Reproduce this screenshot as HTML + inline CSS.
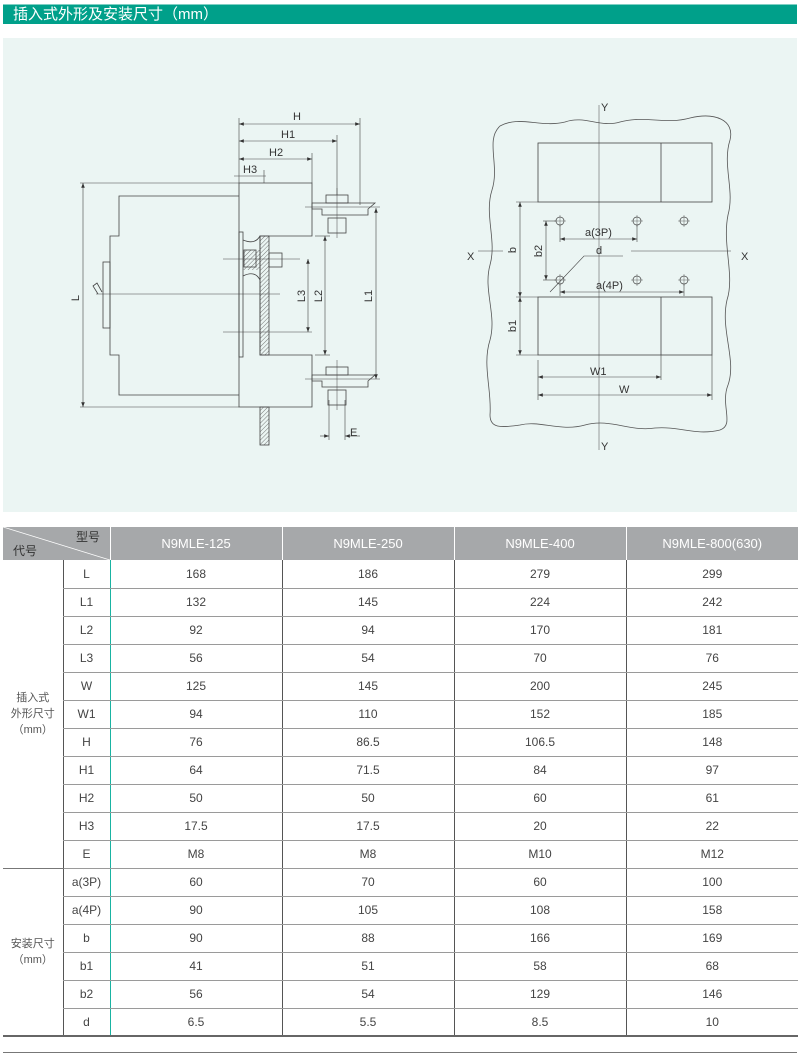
<!DOCTYPE html>
<html><head><meta charset="utf-8">
<style>
body{margin:0;background:#fff;width:800px;height:1062px;position:relative;overflow:hidden;font-family:"Liberation Sans","Noto Sans CJK SC",sans-serif;}
.title{position:absolute;left:3px;top:4px;width:794px;height:19px;background:#00a08a;color:#fff;font-size:15px;line-height:19px;text-indent:10px;border-top:1px solid #7fcfc3;}
.diag{position:absolute;left:3px;top:38px;width:794px;height:474px;background:#ebf5f3;}
svg text{font-family:"Liberation Sans",sans-serif;fill:#333;}
table{position:absolute;left:3px;top:527px;width:795px;table-layout:fixed;border-collapse:collapse;font-size:12px;color:#444;}
td,th{padding:0;text-align:center;height:27px;box-sizing:border-box;}
tr{height:28px;}
th{background:#a6a8aa;color:#fff;font-weight:normal;font-size:13px;height:33px;border-left:1px solid #fff;}
tr.hd{height:33px;}
td{border-bottom:1px solid #9a9a9a;border-left:1px solid #555;line-height:14px;}
td.c{border-right:1px solid #19b3a2;}
td.g{border-left:none;font-size:11px;line-height:16px;color:#555;}
</style></head><body>
<div class="title">插入式外形及安装尺寸（mm）</div>
<div class="diag"></div>
<svg width="800" height="520" style="position:absolute;left:0;top:0" fill="none" stroke="#444" stroke-width="0.8">
<defs><marker id="a" viewBox="0 0 8 6" refX="8" refY="3" markerWidth="8" markerHeight="6" orient="auto-start-reverse"><path d="M0,0L8,3L0,6z" fill="#333" stroke="none"/></marker>
<pattern id="h" width="3" height="3" patternUnits="userSpaceOnUse" patternTransform="rotate(45)"><line x1="0" y1="0" x2="0" y2="3" stroke="#555" stroke-width="0.8"/></pattern></defs>
<path d="M239,183H312V236H260V355H312V407H239Z"/>
<path d="M239,196H119V236H110V355H119V395H239"/>
<rect x="103" y="262" width="7" height="66"/>
<path d="M98,294L93,286L97,283L102,292"/>
<rect x="239" y="232" width="4" height="125"/>
<rect x="260" y="236" width="9" height="119" fill="url(#h)"/>
<rect x="260" y="407" width="9" height="38" fill="url(#h)"/>
<path d="M243,240Q255,245 260,236M243,276Q255,270 260,280" />
<rect x="243" y="250" width="17" height="20" fill="url(#h)" stroke="none"/>
<rect x="244" y="250" width="12" height="17"/>
<rect x="269" y="253" width="13" height="14"/>
<line x1="223" y1="259" x2="300" y2="259" stroke-width="0.5"/>
<line x1="223" y1="332" x2="312" y2="332" stroke-width="0.5"/>
<line x1="96" y1="294" x2="280" y2="294" stroke-width="0.5"/>
<g id="t"><path d="M312,203H375L368,209V215H322V209H312Z"/><rect x="326" y="195" width="22" height="8"/><rect x="328" y="218" width="18" height="15"/><line x1="337" y1="188" x2="337" y2="238" stroke-width="0.5"/><line x1="305" y1="207" x2="380" y2="207" stroke-width="0.5"/></g>
<use href="#t" y="172"/>
<g stroke-width="0.6">
<line x1="239" y1="118" x2="239" y2="183"/><line x1="360" y1="118" x2="360" y2="205"/><line x1="337" y1="135" x2="337" y2="195"/><line x1="312" y1="153" x2="312" y2="183"/><line x1="264" y1="170" x2="264" y2="183"/>
<line x1="239" y1="124" x2="360" y2="124" marker-start="url(#a)" marker-end="url(#a)"/>
<line x1="239" y1="141" x2="337" y2="141" marker-start="url(#a)" marker-end="url(#a)"/>
<line x1="239" y1="159" x2="312" y2="159" marker-start="url(#a)" marker-end="url(#a)"/>
<line x1="234" y1="176" x2="266" y2="176"/>
<line x1="80" y1="183" x2="239" y2="183"/><line x1="80" y1="407" x2="239" y2="407"/>
<line x1="83" y1="183" x2="83" y2="407" marker-start="url(#a)" marker-end="url(#a)"/>
<line x1="376" y1="208" x2="376" y2="379" marker-start="url(#a)" marker-end="url(#a)"/>
<line x1="325" y1="236" x2="325" y2="355" marker-start="url(#a)" marker-end="url(#a)"/>
<line x1="308" y1="259" x2="308" y2="332" marker-start="url(#a)" marker-end="url(#a)"/>
<line x1="315" y1="236" x2="330" y2="236"/><line x1="315" y1="355" x2="330" y2="355"/>
<line x1="329" y1="400" x2="329" y2="440"/><line x1="345" y1="400" x2="345" y2="440"/>
<line x1="320" y1="436" x2="329" y2="436" marker-end="url(#a)"/><line x1="360" y1="436" x2="345" y2="436" marker-end="url(#a)"/>
</g>
<g stroke="none" font-size="11">
<text x="293" y="120">H</text><text x="281" y="138">H1</text><text x="269" y="156">H2</text><text x="243" y="173">H3</text>
<text x="350" y="436">E</text>
<text x="79" y="298" transform="rotate(-90 79 298)" text-anchor="middle">L</text>
<text x="372" y="296" transform="rotate(-90 372 296)" text-anchor="middle">L1</text>
<text x="322" y="296" transform="rotate(-90 322 296)" text-anchor="middle">L2</text>
<text x="305" y="296" transform="rotate(-90 305 296)" text-anchor="middle">L3</text>
</g>
<path d="M500,126C520,115 540,128 565,122C585,115 600,128 620,122C645,115 665,125 690,118C715,112 735,120 730,140C722,165 735,190 728,215C722,245 735,275 727,300C720,330 737,360 728,385C720,405 735,425 720,430C695,436 680,426 655,428C630,432 610,418 585,425C560,432 540,420 520,425C500,428 490,428 490,415C492,390 482,365 490,340C497,315 483,290 490,265C497,240 484,215 492,190C500,165 485,140 500,126Z" stroke="#555"/>
<rect x="538" y="143" width="174" height="59"/><line x1="661" y1="143" x2="661" y2="202"/>
<rect x="538" y="297" width="174" height="58"/><line x1="661" y1="297" x2="661" y2="355"/>
<line x1="599" y1="105" x2="599" y2="450" stroke-width="0.5"/>
<line x1="478" y1="251" x2="503" y2="251" stroke-width="0.5"/><line x1="631" y1="251" x2="731" y2="251" stroke-width="0.5"/>
<g stroke-width="0.7">
<circle cx="560" cy="221" r="4"/><circle cx="637" cy="221" r="4"/><circle cx="684" cy="221" r="4"/>
<circle cx="560" cy="280" r="4"/><circle cx="637" cy="280" r="4"/><circle cx="684" cy="280" r="4"/>
<path d="M554,221h12M560,215v12M631,221h12M637,215v12M678,221h12M684,215v12M554,280h12M560,274v12M631,280h12M637,274v12M678,280h12M684,274v12" stroke-width="0.4"/>
</g>
<g stroke-width="0.6">
<line x1="516" y1="202" x2="538" y2="202"/><line x1="516" y1="355" x2="538" y2="355"/><line x1="516" y1="297" x2="538" y2="297"/>
<line x1="520" y1="202" x2="520" y2="297" marker-start="url(#a)" marker-end="url(#a)"/>
<line x1="520" y1="297" x2="520" y2="355" marker-start="url(#a)" marker-end="url(#a)"/>
<line x1="543" y1="221" x2="556" y2="221"/><line x1="543" y1="280" x2="556" y2="280"/>
<line x1="546" y1="221" x2="546" y2="280" marker-start="url(#a)" marker-end="url(#a)"/>
<line x1="560" y1="225" x2="560" y2="242"/><line x1="637" y1="225" x2="637" y2="242"/><line x1="684" y1="284" x2="684" y2="296"/><line x1="560" y1="284" x2="560" y2="296"/>
<line x1="560" y1="239" x2="637" y2="239" marker-start="url(#a)" marker-end="url(#a)"/>
<line x1="560" y1="292" x2="684" y2="292" marker-start="url(#a)" marker-end="url(#a)"/>
<path d="M550,292L584,256H623"/>
<line x1="538" y1="360" x2="538" y2="400"/><line x1="661" y1="355" x2="661" y2="380"/><line x1="712" y1="355" x2="712" y2="400"/>
<line x1="538" y1="377" x2="661" y2="377" marker-start="url(#a)" marker-end="url(#a)"/>
<line x1="538" y1="395" x2="712" y2="395" marker-start="url(#a)" marker-end="url(#a)"/>
</g>
<g stroke="none" font-size="11">
<text x="601" y="111">Y</text><text x="601" y="450">Y</text><text x="467" y="260">X</text><text x="741" y="260">X</text>
<text x="585" y="236">a(3P)</text><text x="596" y="254">d</text><text x="596" y="289">a(4P)</text>
<text x="590" y="375">W1</text><text x="619" y="393">W</text>
<text x="516" y="250" transform="rotate(-90 516 250)" text-anchor="middle">b</text>
<text x="542" y="251" transform="rotate(-90 542 251)" text-anchor="middle">b2</text>
<text x="516" y="326" transform="rotate(-90 516 326)" text-anchor="middle">b1</text>
</g>
</svg>
<table>
<colgroup><col style="width:60px"><col style="width:47px"><col style="width:172px"><col style="width:172px"><col style="width:172px"><col style="width:172px"></colgroup>
<tr class="hd"><th colspan="2" style="position:relative;border-left:none"><svg width="107" height="33" style="position:absolute;left:0;top:0"><line x1="0" y1="0" x2="107" y2="33" stroke="#fff" stroke-width="0.8"/><text x="73" y="14" font-size="12" fill="#fff" font-family="Noto Sans CJK SC">型号</text><text x="10" y="28" font-size="12" fill="#fff" font-family="Noto Sans CJK SC">代号</text></svg></th>
<th>N9MLE-125</th><th>N9MLE-250</th><th>N9MLE-400</th><th>N9MLE-800(630)</th></tr>
<tr><td rowspan="11" class="g" style="border-bottom:1px solid #777">插入式<br>外形尺寸<br>（mm）</td><td class="c">L</td><td>168</td><td>186</td><td>279</td><td>299</td></tr>
<tr><td class="c">L1</td><td>132</td><td>145</td><td>224</td><td>242</td></tr>
<tr><td class="c">L2</td><td>92</td><td>94</td><td>170</td><td>181</td></tr>
<tr><td class="c">L3</td><td>56</td><td>54</td><td>70</td><td>76</td></tr>
<tr><td class="c">W</td><td>125</td><td>145</td><td>200</td><td>245</td></tr>
<tr><td class="c">W1</td><td>94</td><td>110</td><td>152</td><td>185</td></tr>
<tr><td class="c">H</td><td>76</td><td>86.5</td><td>106.5</td><td>148</td></tr>
<tr><td class="c">H1</td><td>64</td><td>71.5</td><td>84</td><td>97</td></tr>
<tr><td class="c">H2</td><td>50</td><td>50</td><td>60</td><td>61</td></tr>
<tr><td class="c">H3</td><td>17.5</td><td>17.5</td><td>20</td><td>22</td></tr>
<tr><td class="c">E</td><td>M8</td><td>M8</td><td>M10</td><td>M12</td></tr>
<tr><td rowspan="6" class="g" style="border-bottom:2px solid #666">安装尺寸<br>（mm）</td><td class="c">a(3P)</td><td>60</td><td>70</td><td>60</td><td>100</td></tr>
<tr><td class="c">a(4P)</td><td>90</td><td>105</td><td>108</td><td>158</td></tr>
<tr><td class="c">b</td><td>90</td><td>88</td><td>166</td><td>169</td></tr>
<tr><td class="c">b1</td><td>41</td><td>51</td><td>58</td><td>68</td></tr>
<tr><td class="c">b2</td><td>56</td><td>54</td><td>129</td><td>146</td></tr>
<tr style="border-bottom:2px solid #666"><td class="c">d</td><td>6.5</td><td>5.5</td><td>8.5</td><td>10</td></tr>
</table>
<div style="position:absolute;left:3px;top:1052px;width:794px;height:1px;background:#777"></div>
</body></html>
